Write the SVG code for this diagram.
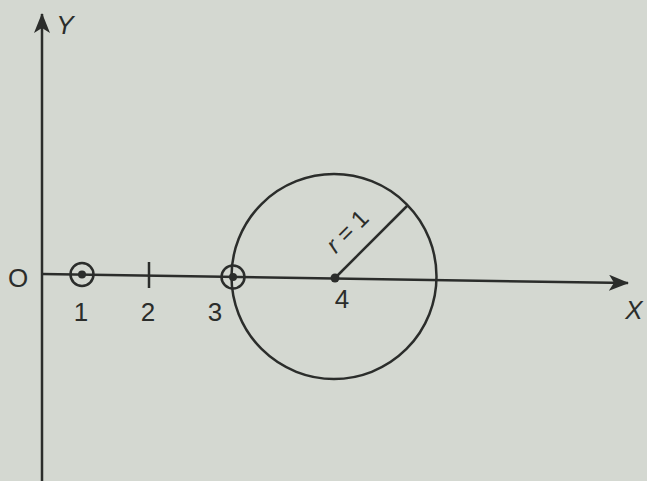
<svg xmlns="http://www.w3.org/2000/svg" width="647" height="481" viewBox="0 0 647 481">
<style>
.ln{stroke:#2b2d2b;stroke-width:2.5;fill:none}
.lbl{font-family:"Liberation Sans",Arial,sans-serif;font-size:26px;fill:#2b2d2b;text-anchor:middle}
.it{font-style:italic}
</style>
<defs>
<marker id="ah" viewBox="0 0 20 16" refX="19" refY="8" markerWidth="20" markerHeight="16" markerUnits="userSpaceOnUse" orient="auto">
<path d="M0,0 L20,8 L0,16 L5,8 Z" fill="#2b2d2b"/>
</marker>
</defs>
<rect width="647" height="481" fill="#d4d8d1"/>
<g id="connectors">
<line id="y-axis" class="ln" x1="42" y1="481" x2="42" y2="14" marker-end="url(#ah)"/>
<line id="x-axis" class="ln" x1="42" y1="274" x2="628" y2="283" marker-end="url(#ah)"/>
<line id="radius" class="ln" x1="335" y1="278" x2="407" y2="206"/>
</g>
<g id="origin"><text class="lbl" x="18" y="287">O</text></g>
<g id="y-label"><text class="lbl it" x="65" y="34">Y</text></g>
<g id="x-label"><text class="lbl it" x="634" y="319">X</text></g>
<g id="point1">
<circle class="ln" cx="82" cy="274.6" r="11.5"/>
<circle cx="82" cy="274.6" r="4" fill="#2b2d2b"/>
<text class="lbl" x="81" y="321">1</text>
</g>
<g id="point2">
<line class="ln" x1="149" y1="262" x2="149" y2="288"/>
<text class="lbl" x="148" y="321">2</text>
</g>
<g id="point3">
<circle class="ln" cx="233" cy="276.9" r="11.5"/>
<circle cx="233" cy="276.9" r="4" fill="#2b2d2b"/>
<text class="lbl" x="215" y="321">3</text>
</g>
<g id="circle4">
<circle class="ln" cx="334" cy="276.5" r="102.5"/>
<circle cx="335" cy="278" r="4.5" fill="#2b2d2b"/>
<text class="lbl" x="342" y="308">4</text>
<text class="lbl" style="font-size:24px" transform="translate(353,237) rotate(-45)" x="0" y="0"><tspan class="it">r</tspan> = 1</text>
</g>
</svg>
